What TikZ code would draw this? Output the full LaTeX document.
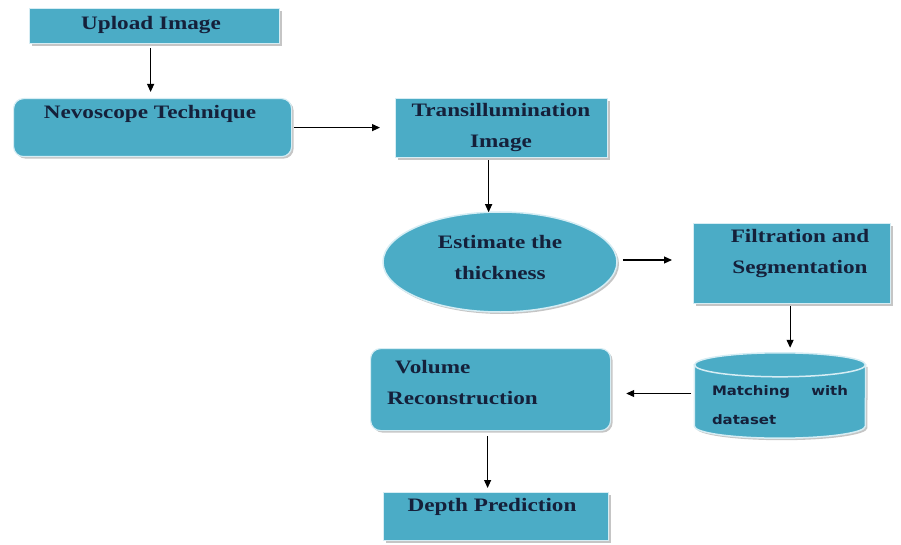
\documentclass[tikz,border=0pt]{standalone}
\usepackage{fontspec}
\setmainfont{Liberation Serif}[FakeStretch=1.22]
\newfontfamily\dbfont{DejaVu Sans}[FakeStretch=1.15]
\usetikzlibrary{positioning, arrows.meta, shapes.geometric, shadows}
\definecolor{boxblue}{HTML}{4BACC6}
\definecolor{rimblue}{HTML}{D6EDF4}
\definecolor{inkblue}{HTML}{15203A}
\tikzset{
  blk/.style={draw=rimblue, line width=1.2pt, fill=boxblue, anchor=north west, inner sep=0pt,
    drop shadow={shadow xshift=2pt, shadow yshift=-2pt, fill=black!45}},
  rblk/.style={blk, rounded corners=10pt},
  oval/.style={ellipse, draw=rimblue, line width=1.5pt, fill=boxblue, inner sep=0pt,
    drop shadow={shadow xshift=2pt, shadow yshift=-2pt, fill=black!45}},
  drum/.style={draw=rimblue, line width=1.5pt, fill=boxblue},
  txt/.style={font=\fontsize{19}{31}\selectfont\bfseries, text=inkblue, align=center, inner sep=0pt},
  stxt/.style={font=\dbfont\fontsize{13}{29}\selectfont\bfseries, text=inkblue, inner sep=0pt},
  flow/.style={line width=1.1pt, -{Triangle[length=8pt, width=7pt]}},
}

\begin{document}
\begin{tikzpicture}[x=1pt, y=-1pt]
\useasboundingbox (0,0) rectangle (901,545);

% boxes
\node[blk, minimum width=250, minimum height=35] (upl) at (29,8) {};
\node[txt] (uplT) at (151,25) {Upload Image};

\node[rblk, minimum width=278, minimum height=58] (nev) at (13,98) {};
\node[txt] (nevT) at (150,114) {Nevoscope Technique};

\node[blk, minimum width=212, minimum height=59] (tra) at (395,98) {};
\node[txt] (traT) at (501,128) {Transillumination\\Image};

\node[oval, minimum width=234, minimum height=100] (est) at (500,262) {};
\node[txt] (estT) at (500,258) {Estimate the\\thickness};

\node[blk, minimum width=197, minimum height=80] (fil) at (693,223) {};
\node[txt] (filT) at (800,254) {Filtration and\\Segmentation};

% database drum
\node[inner sep=0pt, minimum width=171, minimum height=85] (mat) at (780,395.5) {};
\path[drum, drop shadow={shadow xshift=2pt, shadow yshift=-2pt, fill=black!45}]
  (mat.north west) ++(0,12) -- ([yshift=12pt]mat.south west)
  arc[start angle=180, end angle=360, x radius=85.5pt, y radius=12pt]
  -- ([yshift=-12pt]mat.north east) -- cycle;
\path[drum] ([yshift=-12pt]mat.north) ellipse[x radius=85.5pt, y radius=12pt];
\node[stxt, text width=136, align=left] (matT) at (780,405) {\makebox[136pt][s]{Matching\hfill with}\\dataset};

\node[rblk, minimum width=240, minimum height=82] (vol) at (370,348) {};
\node[txt, anchor=west] (volT1) at (395,367) {Volume};
\node[txt, anchor=west] (volT2) at (387,398) {Reconstruction};

\node[blk, minimum width=225, minimum height=48] (dep) at (383,492) {};
\node[txt] (depT) at (492,507) {Depth Prediction};

% arrows
\draw[flow, shorten <=4pt, shorten >=6pt] ([xshift=-4pt]upl.south) -- ([xshift=-4pt]upl.south |- nev.north);
\draw[flow, shorten <=2pt, shorten >=15pt] (nev.east) -- (nev.east -| tra.west);
\draw[flow, shorten <=2pt] ([xshift=-13pt]tra.south) -- ([xshift=-13pt,yshift=-1pt]tra.south |- est.north);
\draw[flow, shorten <=5pt, shorten >=21pt] ([yshift=2pt]est.east) -- ([yshift=2pt]est.east -| fil.west);
\draw[flow, shorten <=2pt, shorten >=5pt] ([xshift=-2pt]fil.south) -- ([xshift=-2pt]fil.south |- mat.north);
\draw[flow, shorten <=3pt, shorten >=15pt] ([yshift=2pt]mat.west) -- ([yshift=2pt]mat.west -| vol.east);
\draw[flow, shorten <=5pt, shorten >=4pt] ([xshift=-3pt]vol.south) -- ([xshift=-3pt]vol.south |- dep.north);

\end{tikzpicture}
\end{document}
